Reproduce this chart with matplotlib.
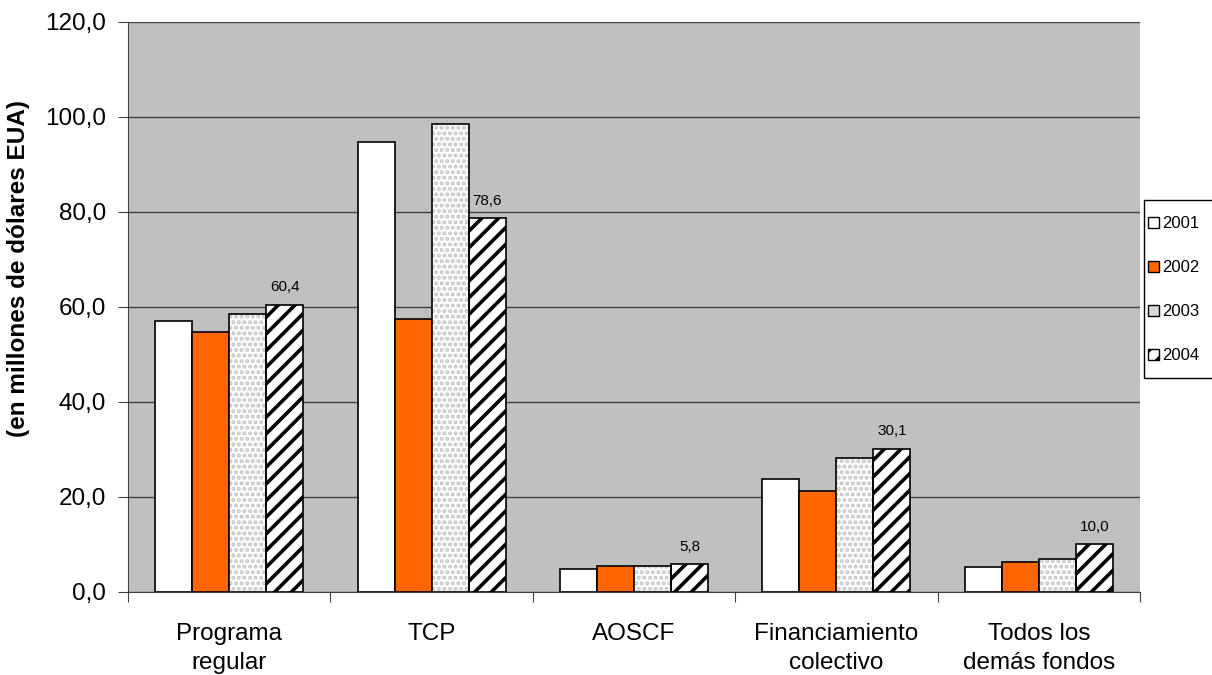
import matplotlib.pyplot as plt
import numpy as np
from matplotlib.patches import Patch, Rectangle

plt.rcParams['font.family'] = ['Liberation Sans', 'DejaVu Sans']

categorias = ['Programa\nregular', 'TCP', 'AOSCF', 'Financiamiento\ncolectivo', 'Todos los\ndemás fondos']
anios = ['2001', '2002', '2003', '2004']

v2001 = [57.0, 94.6, 4.9, 23.7, 5.2]
v2002 = [54.8, 57.5, 5.5, 21.3, 6.3]
v2003 = [58.5, 98.5, 5.5, 28.2, 7.0]
v2004 = [60.4, 78.6, 5.8, 30.1, 10.0]

etiquetas_2004 = ['60,4', '78,6', '5,8', '30,1', '10,0']

W, H = 1212, 675
fig = plt.figure(figsize=(W / 100, H / 100), dpi=100)
ax = fig.add_axes([0.1056, 0.123, 0.835, 0.845])
ax.set_facecolor('#C0C0C0')

x = np.arange(len(categorias))
w = 0.183
pos = x - 1.5 * w

# 2001 blanco, 2002 naranja
ax.bar(pos, v2001, w, color='white', edgecolor='black', linewidth=1.2, zorder=3)
ax.bar(pos + w, v2002, w, color='#FF6600', edgecolor='black', linewidth=1.2, zorder=3)

# 2003 punteado gris sobre blanco
plt.rcParams['hatch.linewidth'] = 2.0
ax.bar(pos + 2 * w, v2003, w, color='white', edgecolor='#C4C4C4', hatch='...', linewidth=0, zorder=3)
ax.bar(pos + 2 * w, v2003, w, color='none', edgecolor='black', linewidth=1.2, zorder=4)

# 2004 rayado diagonal
b4 = ax.bar(pos + 3 * w, v2004, w, color='white', edgecolor='black', hatch='//', linewidth=1.2, zorder=3)
for rect in b4:
    rect._hatch_linewidth = 2.6

for xi, v, t in zip(pos + 3 * w, v2004, etiquetas_2004):
    ax.text(xi, v + 2.2, t, ha='center', va='bottom', fontsize=11)

ax.set_ylim(0, 120)
ax.set_xlim(-0.5, len(categorias) - 0.5)
ax.set_yticks(np.arange(0, 121, 20))
ax.set_yticklabels(['%d,0' % t for t in range(0, 121, 20)], fontsize=17.5)
ax.yaxis.grid(True, color='#404040', linewidth=1, zorder=1)
ax.set_axisbelow(True)

ax.set_xticks(np.arange(-0.5, len(categorias), 1.0))
ax.set_xticklabels([])
ax.set_xticks(x, minor=True)
ax.set_xticklabels(categorias, minor=True, fontsize=17.5, linespacing=1.45)
ax.tick_params(axis='x', which='minor', length=0, pad=22)
ax.tick_params(axis='x', which='major', length=7, direction='out', color='#404040')
ax.tick_params(axis='y', length=7, direction='out', color='#404040', pad=9)

ax.spines['top'].set_visible(False)
ax.spines['right'].set_visible(False)
ax.spines['left'].set_color('#404040')
ax.spines['bottom'].set_color('#404040')

ax.set_ylabel('(en millones de dólares EUA)', fontsize=17.5, fontweight='bold')
ax.yaxis.set_label_coords(-0.097, 0.567)

# marco de la leyenda (se sale por el borde derecho)
fig.patches.append(Rectangle((1144 / W, 1 - 378 / H), 80 / W, 178 / H, transform=fig.transFigure,
                             facecolor='white', edgecolor='black', linewidth=1.0, zorder=0))

handles = [
    Patch(facecolor='white', edgecolor='black'),
    Patch(facecolor='#FF6600', edgecolor='black'),
    Patch(facecolor='#D8D8D8', edgecolor='black'),
    Patch(facecolor='white', edgecolor='black', hatch='//'),
]
leg = fig.legend(handles, anios, loc='center left', bbox_to_anchor=(1145 / W, 1 - 290 / H),
                 fontsize=12, frameon=False, handlelength=0.65, handleheight=0.65,
                 handletextpad=0.15, labelspacing=1.74, borderpad=0.2, borderaxespad=0)

fig.savefig('out.png', dpi=100)
